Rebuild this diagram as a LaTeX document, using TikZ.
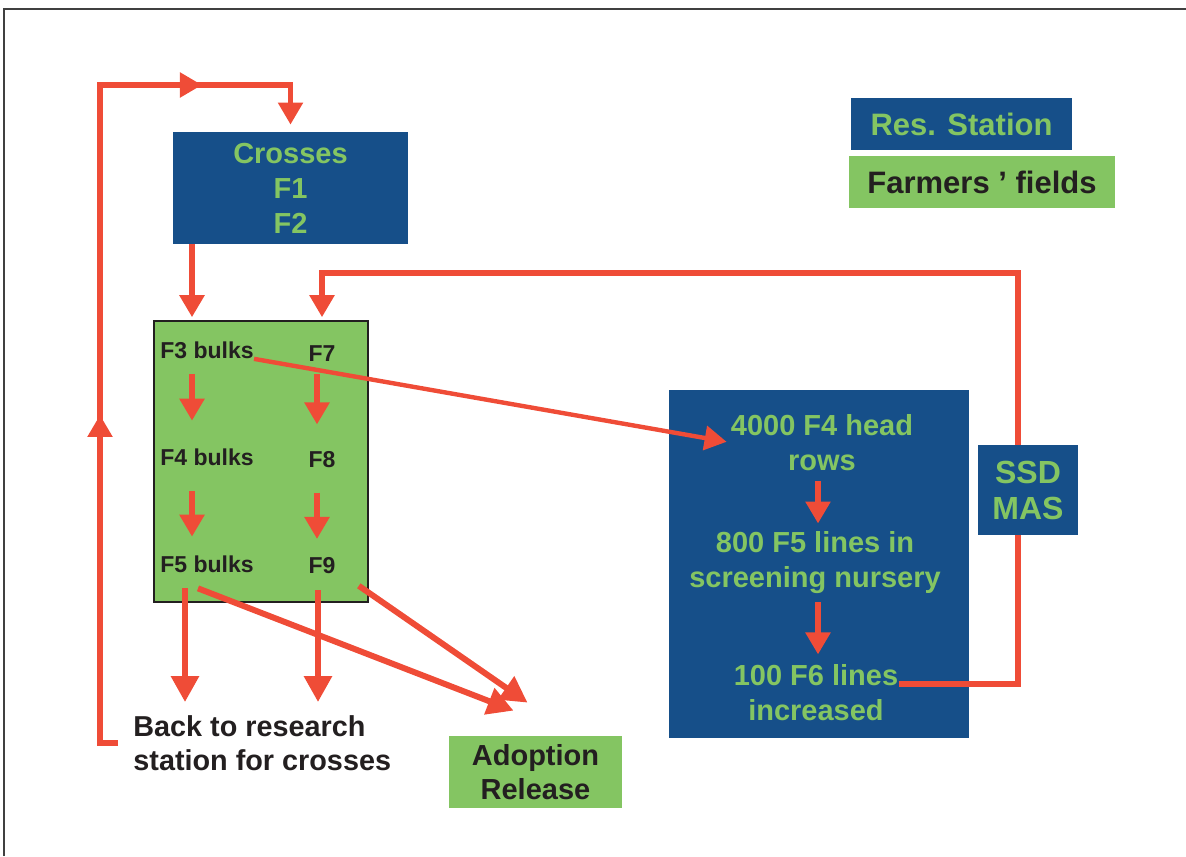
\documentclass[tikz,border=0pt]{standalone}
\usepackage{fontspec}
\setmainfont{Liberation Sans}
\usetikzlibrary{arrows.meta,decorations.markings,positioning}

\definecolor{stationblue}{RGB}{22,79,137}
\definecolor{fieldgreen}{RGB}{132,197,98}
\definecolor{flowred}{RGB}{239,76,55}
\definecolor{inkdark}{RGB}{35,31,32}

\tikzset{
  station/.style={fill=stationblue, text=fieldgreen, align=center, inner sep=0pt,
    font=\bfseries\fontsize{14.5}{17.5}\selectfont},
  field/.style={fill=fieldgreen, text=inkdark, align=center, inner sep=0pt,
    font=\bfseries\fontsize{14.5}{17}\selectfont},
  bulktext/.style={text=inkdark, inner sep=0pt, font=\bfseries\fontsize{11.5}{14}\selectfont},
  bluetext/.style={text=fieldgreen, align=center, inner sep=0pt,
    font=\bfseries\fontsize{14.5}{17.5}\selectfont},
  flow/.style={draw=flowred, line width=3pt, -{Triangle[width=12pt,length=11pt]}},
  bigflow/.style={flow, -{Triangle[width=13.5pt,length=13pt]}},
  loopline/.style={draw=flowred, line width=2.6pt, -{Triangle[width=12pt,length=11pt]}},
}

\begin{document}
\begin{tikzpicture}[x=0.5pt, y=-0.5pt]
  \useasboundingbox (0,0) rectangle (1186,856);
  % Marco
  \draw[line width=1.2pt, black!75] (4,856) -- (4,9) -- (1186,9);
  % Leyenda
  \node[station, minimum width=110.5pt, minimum height=26pt,
        font=\bfseries\fontsize{15.5}{18}\selectfont] (resstation) at (961.5,124) {Res. Station};
  \node[field, minimum width=133pt, minimum height=26pt,
        font=\bfseries\fontsize{15.5}{18}\selectfont] (farmers) at (982,182) {Farmers ’ fields};
  % Cruces
  \node[station, minimum width=117.5pt, minimum height=56pt] (crosses) at (290.5,188) {Crosses\\F1\\F2};
  % Bulks en campo
  \node[field, draw=inkdark, line width=0.8pt, minimum width=107pt, minimum height=140.5pt] (bulks) at (261,461.5) {};
  \node[bulktext] (f3) at (207,350) {F3 bulks};
  \node[bulktext] (f4) at (207,457.5) {F4 bulks};
  \node[bulktext] (f5) at (207,564.5) {F5 bulks};
  \node[bulktext] (f7) at (322,354) {F7};
  \node[bulktext] (f8) at (322,460) {F8};
  \node[bulktext] (f9) at (322,565.5) {F9};
  \coordinate (lcol) at ([xshift=-7.5pt]f3.south);
  \coordinate (rcol) at ([xshift=-2.5pt]f7.south);
  \draw[flow, shorten <=7.5pt, shorten >=14pt] (lcol) -- (lcol |- f4.north);
  \draw[flow, shorten <=6pt, shorten >=13.5pt] (rcol) -- (rcol |- f8.north);
  \draw[flow, shorten <=12.5pt, shorten >=9.5pt] (lcol |- f4.south) -- (lcol |- f5.north);
  \draw[flow, shorten <=12pt, shorten >=9pt] (rcol |- f8.south) -- (rcol |- f9.north);
  % Estacion de investigacion
  \node[station, minimum width=150pt, minimum height=174pt] (nursery) at (819,564) {};
  \node[bluetext] (n4000) at (822,442.5) {4000 F4 head\\rows};
  \node[bluetext] (n800) at (815,563) {800 F5 lines in\\screening nursery};
  \node[bluetext] (n100) at (816,693) {100 F6 lines\\increased};
  \coordinate (mcol) at ([xshift=1.5pt]n800.north);
  \draw[flow, shorten <=5pt, shorten >=4pt] (mcol |- n4000.south) -- (mcol);
  \draw[flow, shorten <=4pt, shorten >=5pt] (mcol |- n800.south) -- (mcol |- n100.north);
  % Salidas
  \node[field, minimum width=86.5pt, minimum height=36pt] (adoption) at (535.5,772) {Adoption\\Release};
  \node[anchor=west, text=inkdark, align=left, inner xsep=7.5pt, inner ysep=0pt,
        font=\bfseries\fontsize{14.4}{17}\selectfont] (back) at (118,743) {Back to research\\station for crosses};
  % Flechas
  \draw[flow, shorten >=1.5pt] (lcol |- crosses.south) -- (lcol |- bulks.north);
  \draw[flow, line width=2.2pt, shorten >=2pt] (f3.south east) -- (n4000.west);
  \coordinate (bcol) at ([xshift=-11pt]f5.south);
  \coordinate (ncol) at ([xshift=-2pt]f9.south);
  \draw[bigflow, shorten <=7.5pt, shorten >=6.5pt] (bcol) -- (bcol |- back.north);
  \draw[bigflow, shorten <=8pt, shorten >=6.5pt] (ncol) -- (ncol |- back.north);
  \coordinate (d1) at ([xshift=-4.5pt,yshift=-7.5pt]f5.south);
  \coordinate (d2) at ([xshift=-5pt,yshift=8.5pt]bulks.south east);
  \coordinate (rel1) at ([xshift=-11pt,yshift=12.5pt]adoption.north);
  \coordinate (rel2) at ([xshift=-4pt,yshift=16.5pt]adoption.north);
  \draw[bigflow] (d1) -- (rel1);
  \draw[bigflow] (d2) -- (rel2);
  % Lazos de retorno
  \coordinate (lt) at (100,85);
  \coordinate (rt) at (1018,273);
  \draw[loopline, shorten >=3.5pt,
        postaction={decorate, decoration={markings,
          mark=at position 0.379 with {\arrow[flowred]{Triangle[width=12pt,length=11pt]}},
          mark=at position 0.852 with {\arrow[flowred]{Triangle[width=12pt,length=11pt]}}}}]
        (back.west) -| (lt) -| (crosses.north);
  \draw[loopline, shorten >=1.5pt] ([yshift=4.5pt]n100.east) -| (rt) -| (f7 |- bulks.north);
  \node[station, minimum width=50pt, minimum height=45pt,
        font=\bfseries\fontsize{16}{18}\selectfont] (ssd) at (1028,490) {SSD\\MAS};
\end{tikzpicture}
\end{document}
